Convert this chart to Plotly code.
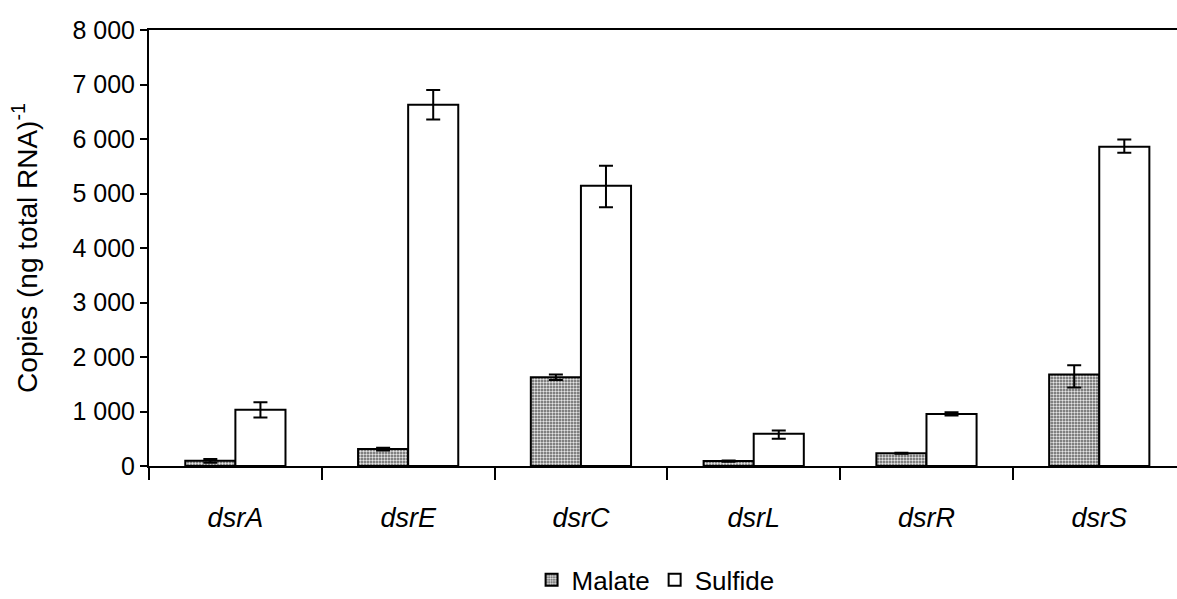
import plotly.graph_objects as go

genes = ["dsrA", "dsrE", "dsrC", "dsrL", "dsrR", "dsrS"]
gene_labels = ["<i>%s</i>" % g for g in genes]

malate = [95, 310, 1630, 90, 235, 1680]
malate_err_plus = [35, 25, 50, 10, 10, 170]
malate_err_minus = [35, 25, 50, 10, 10, 240]

sulfide = [1030, 6630, 5140, 590, 955, 5860]
sulfide_err_plus = [140, 270, 370, 60, 30, 130]
sulfide_err_minus = [140, 270, 390, 90, 30, 110]

y_ticks = [0, 1000, 2000, 3000, 4000, 5000, 6000, 7000, 8000]
y_tick_text = ["0", "1 000", "2 000", "3 000", "4 000", "5 000", "6 000", "7 000", "8 000"]

FONT = "Liberation Sans, Arial, sans-serif"

fig = go.Figure()
fig.add_trace(go.Bar(
    name="Malate", x=genes, y=malate,
    marker=dict(
        color="#ffffff",
        line=dict(color="black", width=2),
        pattern=dict(shape=".", bgcolor="#5e5e5e", fgcolor="#e6e6e6",
                     size=3, solidity=0.5, fillmode="replace"),
    ),
    error_y=dict(type="data", symmetric=False, array=malate_err_plus,
                 arrayminus=malate_err_minus, color="black", thickness=2, width=7),
))
fig.add_trace(go.Bar(
    name="Sulfide", x=genes, y=sulfide,
    marker=dict(color="white", line=dict(color="black", width=2)),
    error_y=dict(type="data", symmetric=False, array=sulfide_err_plus,
                 arrayminus=sulfide_err_minus, color="black", thickness=2, width=7),
))

fig.update_layout(
    width=1177, height=599,
    margin=dict(l=149, r=0, t=30, b=133),
    paper_bgcolor="white", plot_bgcolor="white",
    barmode="group", bargap=0.42, bargroupgap=0,
    font=dict(family=FONT, size=24, color="black"),
    showlegend=True,
    legend=dict(
        orientation="h", xref="container", yref="container",
        x=0.557, xanchor="center", y=0.032, yanchor="middle",
        font=dict(family=FONT, size=26), itemwidth=30, traceorder="normal",
    ),
)

fig.update_xaxes(
    tickvals=genes, ticktext=gene_labels,
    range=[-0.5, 5.45],
    showline=True, linecolor="black", linewidth=2, mirror=True,
    ticks="outside", tickson="boundaries", ticklen=12, tickwidth=2, tickcolor="black",
    ticklabelstandoff=27,
    showgrid=False, zeroline=False,
    tickfont=dict(family=FONT, size=27),
)
fig.update_yaxes(
    range=[0, 8000],
    tickvals=y_ticks, ticktext=y_tick_text,
    showline=True, linecolor="black", linewidth=2,
    ticks="outside", ticklen=7, tickwidth=2, tickcolor="black",
    showgrid=False, zeroline=False,
    tickfont=dict(family=FONT, size=25),
    title=dict(text="Copies (ng total RNA)<sup>-1</sup>",
               font=dict(family=FONT, size=28), standoff=27),
)

fig.write_html("out.html")
